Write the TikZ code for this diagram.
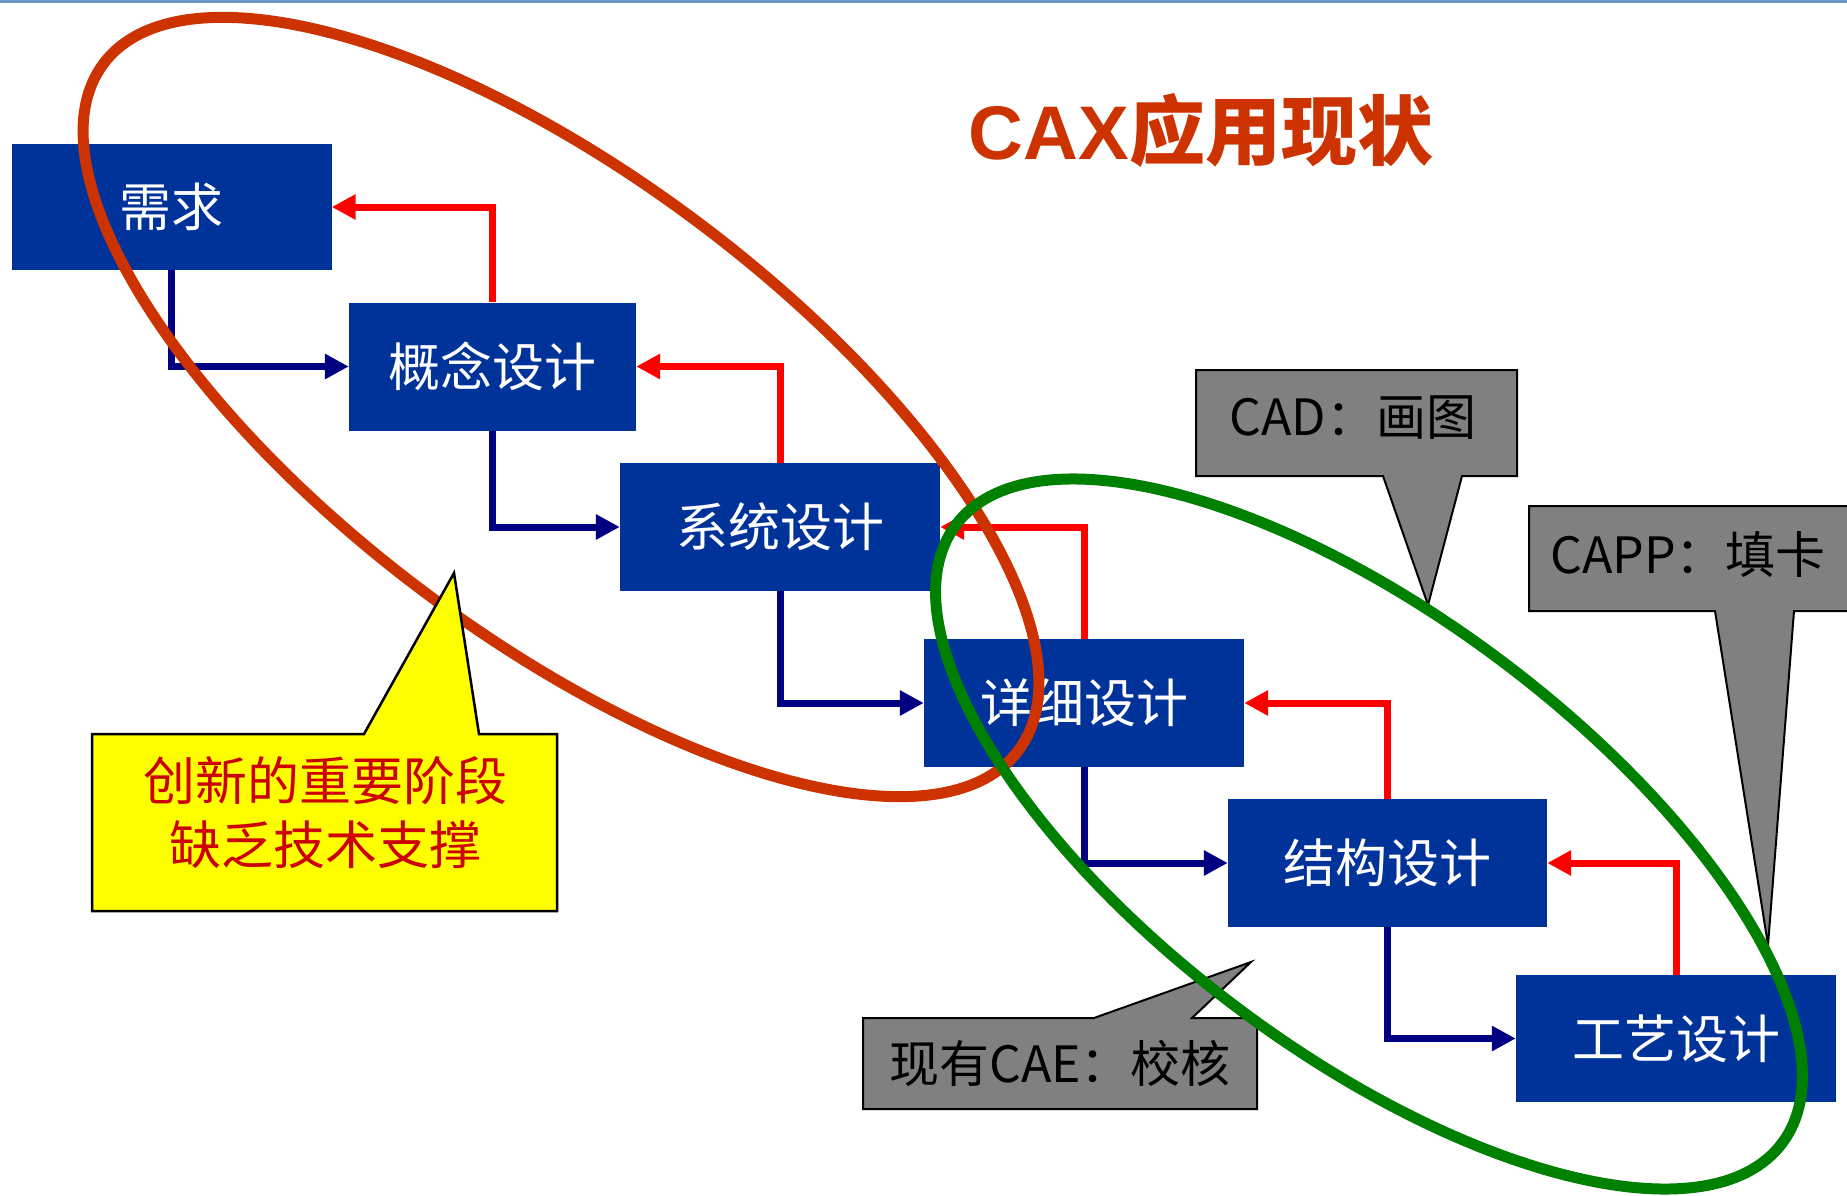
\documentclass[tikz,border=0pt]{standalone}
\usepackage{fontspec}
\setmainfont{Liberation Sans}
\newfontfamily\cjk{Noto Sans CJK SC}
\newfontfamily\latinb{Liberation Sans}
\usetikzlibrary{arrows.meta}
\definecolor{boxblue}{RGB}{0,51,153}
\definecolor{navyline}{RGB}{0,0,128}
\definecolor{redline}{RGB}{255,0,0}
\definecolor{ellred}{RGB}{204,51,0}
\definecolor{ellgreen}{RGB}{0,128,0}
\definecolor{calloutgrey}{RGB}{128,128,128}
\definecolor{calloutyellow}{RGB}{255,255,0}
\definecolor{yellowtext}{RGB}{204,0,0}
\definecolor{titlered}{RGB}{204,51,0}
\definecolor{topline}{RGB}{110,150,200}
\begin{document}
\begin{tikzpicture}[x=1pt,y=-1pt,
  stage/.style={fill=boxblue, text=white, inner sep=0pt, minimum height=128pt,
    font=\cjk\fontsize{52}{60}\selectfont},
  fwd/.style={draw=navyline, line width=7pt, line join=miter, -{Triangle[length=24pt,width=24pt]}},
  back/.style={draw=redline, line width=7pt, line join=miter, -{Triangle[length=24pt,width=24pt]}},
  callgrey/.style={fill=calloutgrey, draw=black, line width=2pt, line join=miter},
  calltext/.style={text=black, inner sep=0pt, font=\cjk\fontsize{50}{58}\selectfont},
  ring/.style={line width=11pt}
]
\clip (0,0) rectangle (1847,1196);
\fill[white] (0,0) rectangle (1847,1196);
\fill[topline] (0,0) rectangle (1847,3);

% title
\node[text=titlered, inner sep=0pt] (title) at (1201,130)
  {{\latinb\bfseries\fontsize{76}{80}\selectfont CAX}{\cjk\bfseries\fontsize{76}{80}\selectfont 应用现状}};

% stages
\node[stage, minimum width=320pt, minimum height=126pt] (req) at (171.5,207) {需求};
\node[stage, minimum width=287pt] (con) at (492.5,366.5) {概念设计};
\node[stage, minimum width=320pt] (sys) at (780,527) {系统设计};
\node[stage, minimum width=320pt] (det) at (1084,703) {详细设计};
\node[stage, minimum width=319pt] (str) at (1387.5,863) {结构设计};
\node[stage, minimum width=320pt, minimum height=127pt] (proc) at (1676,1038.5) {工艺设计};

% forward arrows
\draw[fwd] (req.south) |- (con.west);
\draw[fwd] (con.south) |- (sys.west);
\draw[fwd] (sys.south) |- (det.west);
\draw[fwd] (det.south) |- (str.west);
\draw[fwd] (str.south) |- (proc.west);

% feedback arrows
\draw[back] (con.north) |- (req.east);
\draw[back] (sys.north) |- (con.east);
\draw[back] (det.north) |- (sys.east);
\draw[back] (str.north) |- (det.east);
\draw[back] (proc.north) |- (str.east);

% red ellipse
\draw[ring, draw=ellred, rotate around={-36.9:(561,407)}] (561,407) ellipse [x radius=572pt, y radius=230pt];

% yellow callout
\filldraw[fill=calloutyellow, draw=black, line width=2.5pt, line join=miter]
  (92,734) -- (364,734) -- (454,573) -- (479,734) -- (557,734) -- (557,911) -- (92,911) -- cycle;
\node[text=yellowtext, align=center, inner sep=0pt, font=\cjk\fontsize{52}{64}\selectfont] (innov) at (325,813)
  {创新的重要阶段\\缺乏技术支撑};

% grey callouts
\filldraw[callgrey] (1196,370) -- (1517,370) -- (1517,476) -- (1462,476) -- (1428,605) -- (1383,476) -- (1196,476) -- cycle;
\node[calltext] (cad) at (1353,418) {CAD：画图};

\filldraw[callgrey] (1529,506) -- (1860,506) -- (1860,611) -- (1794,611) -- (1768,945) -- (1715,611) -- (1529,611) -- cycle;
\node[calltext] (capp) at (1688,554) {CAPP：填卡};

\filldraw[callgrey] (863,1018) -- (1094,1018) -- (1251,962) -- (1192,1018) -- (1257,1018) -- (1257,1109) -- (863,1109) -- cycle;
\node[calltext] (cae) at (1060,1063) {现有CAE：校核};

% green ellipse
\draw[ring, draw=ellgreen, rotate around={-36.8:(1369,834)}] (1369,834) ellipse [x radius=516pt, y radius=218pt];
\end{tikzpicture}
\end{document}
